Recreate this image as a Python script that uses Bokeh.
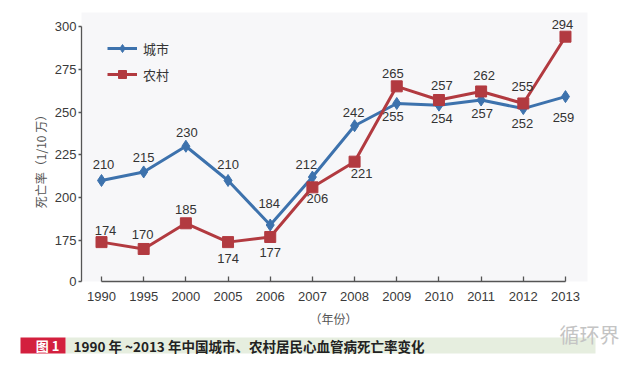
import math
from bokeh.plotting import figure
from bokeh.models import (Range1d, FixedTicker, ColumnDataSource, Legend,
                          LegendItem, Label, BoxAnnotation)
from bokeh.core.properties import value
from bokeh.embed import file_html
from bokeh.resources import INLINE

# ---------------- data ----------------
years = ["1990", "1995", "2000", "2005", "2006", "2007",
         "2008", "2009", "2010", "2011", "2012", "2013"]
urban = [210, 215, 230, 210, 184, 212, 242, 255, 254, 257, 252, 259]
rural = [174, 170, 185, 174, 177, 206, 221, 265, 257, 262, 255, 294]
y_ticks = [175, 200, 225, 250, 275, 300]
AXIS_BREAK = 151          # position on the broken axis that is labelled "0"
series_names = ["城市", "农村"]
y_title = "死亡率（1/10 万）"
x_title = "（年份）"
fig_no = "图 1"
caption = "1990 年 ~2013 年中国城市、农村居民心血管病死亡率变化"
watermark = "循环界"

# label offsets (pixels, style only)
urban_dx = [2, 0, 1, 0, -1, -6, -1, -4, 3, 1, -1, -2]
urban_dy = [-16, -14, -14, -16, -22, -13, -13, 13, 13, 13, 15, 21]
rural_dx = [4, -1, 0, 0, 0, 5, 7, -4, 3, 3, -1, -3]
rural_dy = [-12, -14, -14, 16, 16, 11, 12, -13, -15, -16, -17, -12]

BLUE = "#3d72ad"
RED = "#b23a40"
AX = "#555555"
NUM = "Liberation Sans"
CJK = "Noto Sans CJK SC"

W, H = 640, 365
# layout (canvas pixels): where 1990/2013 and the axis break sit
X0_PX, DX_PX = 101, 42.18       # px of first year, px per year step
YB_PX, DY_PX = 281, 1.712       # px of axis break, px per unit

xs = list(range(len(years)))

p = figure(width=W, height=H, output_backend="svg", toolbar_location=None,
           x_range=Range1d(-X0_PX / DX_PX, (W - X0_PX) / DX_PX),
           y_range=Range1d(AXIS_BREAK - (H - YB_PX) / DY_PX,
                           AXIS_BREAK + YB_PX / DY_PX),
           min_border=0, min_border_left=0, min_border_right=0,
           min_border_top=0, min_border_bottom=0)
p.outline_line_color = None
p.background_fill_color = "white"
p.border_fill_color = "white"
p.grid.grid_line_color = None

Y_AXIS_X = (81 - X0_PX) / DX_PX

# plot-area shading
p.add_layout(BoxAnnotation(left=81, right=587, top=H - 12, bottom=H - 281,
                           left_units="screen", right_units="screen",
                           top_units="screen", bottom_units="screen",
                           fill_color="#f7f7f9", fill_alpha=1.0,
                           line_color=None, level="underlay"))

# axes
p.xaxis.fixed_location = AXIS_BREAK
p.xaxis.ticker = FixedTicker(ticks=xs)
p.xaxis.major_label_overrides = {i: y for i, y in enumerate(years)}
p.xaxis.bounds = (xs[0], xs[-1])
p.xaxis.major_tick_in = 5
p.xaxis.major_tick_out = 0
p.xaxis.minor_tick_line_color = None
p.xaxis.major_label_standoff = 10
p.xaxis.axis_label = x_title
p.xaxis.axis_label_standoff = 6

p.yaxis.fixed_location = Y_AXIS_X
p.yaxis.ticker = FixedTicker(ticks=[AXIS_BREAK] + y_ticks)
p.yaxis.major_label_overrides = {AXIS_BREAK: "0"}
p.yaxis.bounds = (AXIS_BREAK, y_ticks[-1])
p.yaxis.major_tick_in = 0
p.yaxis.major_tick_out = 3
p.yaxis.minor_tick_line_color = None
p.yaxis.major_label_standoff = 2

for ax in (p.xaxis, p.yaxis):
    ax.axis_line_color = AX
    ax.axis_line_width = 1.3
    ax.major_tick_line_color = AX
    ax.major_tick_line_width = 1.3
    ax.major_label_text_font = NUM
    ax.major_label_text_font_size = "13px"
    ax.major_label_text_color = "#3a3a3a"
    ax.axis_label_text_font = CJK
    ax.axis_label_text_font_size = "12px"
    ax.axis_label_text_font_style = "normal"
    ax.axis_label_text_color = "#555555"

def lab(cx, cy, text, **kw):
    return Label(x=cx, y=H - cy, x_units="screen", y_units="screen",
                 text=text, text_baseline="middle", **kw)

p.add_layout(lab(40, 158, y_title, angle=math.pi / 2, text_align="center",
                 text_font=CJK, text_font_size="12px", text_color="#555555"))

src_u = ColumnDataSource(dict(x=xs, y=urban, t=[str(v) for v in urban],
                              dx=urban_dx, dy=urban_dy))
src_r = ColumnDataSource(dict(x=xs, y=rural, t=[str(v) for v in rural],
                              dx=rural_dx, dy=rural_dy))

l_u = p.line("x", "y", source=src_u, line_color=BLUE, line_width=3)
m_u = p.scatter("x", "y", source=src_u, marker="diamond", size=12,
                fill_color=BLUE, line_color=BLUE)
l_r = p.line("x", "y", source=src_r, line_color=RED, line_width=3)
m_r = p.scatter("x", "y", source=src_r, marker="square", size=11,
                fill_color=RED, line_color=RED)

for src in (src_u, src_r):
    p.text("x", "y", text="t", source=src, x_offset="dx", y_offset="dy",
           text_align="center", text_baseline="middle",
           text_font=value(NUM), text_font_size="13px", text_color="#333333")

legend = Legend(items=[LegendItem(label=series_names[0], renderers=[l_u, m_u]),
                       LegendItem(label=series_names[1], renderers=[l_r, m_r])],
                location=(107, H - 84), margin=0, padding=0, spacing=6,
                glyph_width=30, glyph_height=20, label_height=20,
                label_standoff=6, background_fill_alpha=0,
                border_line_color=None,
                label_text_font=CJK, label_text_font_size="13px",
                label_text_color="#333333")
p.add_layout(legend)

# ---------------- caption strip ----------------
def box(l, r, t, b, color):
    return BoxAnnotation(left=l, right=r, top=H - t, bottom=H - b,
                         left_units="screen", right_units="screen",
                         top_units="screen", bottom_units="screen",
                         fill_color=color, fill_alpha=1.0, line_color=None)

p.add_layout(box(65, 595, 337, 353, "#e6eedf"))
p.add_layout(box(20, 65, 337, 353, "#d3203e"))
p.add_layout(lab(47, 345, fig_no, text_align="center", text_color="white",
                 text_font=CJK, text_font_size="13px", text_font_style="bold"))
p.add_layout(lab(73, 345, caption, text_align="left", text_color="#222222",
                 text_font=CJK, text_font_size="13.5px", text_font_style="bold"))
p.add_layout(lab(559, 334, watermark, text_align="left", text_color="#c4c4c4",
                 text_font=CJK, text_font_size="20px"))

open("out.html", "w").write(file_html(p, INLINE))
